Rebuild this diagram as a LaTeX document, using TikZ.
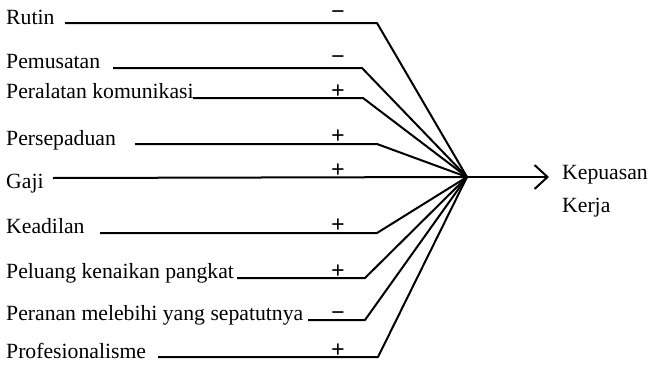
\documentclass[tikz,border=0pt]{standalone}
\usepackage{fontspec}
\setmainfont{Liberation Serif}
\usetikzlibrary{arrows.meta}
\begin{document}
\begin{tikzpicture}[x=1pt,y=-1pt,
  lbl/.style={anchor=base west,inner sep=0pt,font=\fontsize{21.7}{26}\selectfont},
  sgn/.style={inner sep=0pt,font=\fontsize{24}{26}\selectfont\bfseries},
  conn/.style={line width=2pt,line join=round}]
\useasboundingbox (0,0) rectangle (649,370);
\coordinate (hub) at (467,177);
% labels
\node[lbl] (l1) at (6,24) {Rutin};
\node[lbl] (l2) at (6,68) {Pemusatan};
\node[lbl] (l3) at (6,98) {Peralatan komunikasi};
\node[lbl] (l4) at (6,145) {Persepaduan};
\node[lbl] (l5) at (6,188) {Gaji};
\node[lbl] (l6) at (6,233) {Keadilan};
\node[lbl] (l7) at (6,278) {Peluang kenaikan pangkat};
\node[lbl] (l8) at (6,320) {Peranan melebihi yang sepatutnya};
\node[lbl] (l9) at (6,358) {Profesionalisme};
\node[lbl] (out) at (562,179) {Kepuasan};
\node[lbl] (out2) at (562,212) {Kerja};
% start and bend points
\coordinate (s1) at (65,23);  \coordinate (b1) at (377,23);
\coordinate (s2) at (113,68); \coordinate (b2) at (362,68);
\coordinate (s3) at (193,98); \coordinate (b3) at (363,98);
\coordinate (s4) at (135,144); \coordinate (b4) at (377,144);
\coordinate (s5) at (53,178);
\coordinate (s6) at (100,233); \coordinate (b6) at (377,233);
\coordinate (s7) at (237,278); \coordinate (b7) at (365,278);
\coordinate (s8) at (308,320); \coordinate (b8) at (365,320);
\coordinate (s9) at (158,357); \coordinate (b9) at (378,357);
\coordinate (tip) at (549,177);
% connectors
\draw[conn] (s1) -- (b1) -- (hub);
\draw[conn] (s2) -- (b2) -- (hub);
\draw[conn] (s3) -- (b3) -- (hub);
\draw[conn] (s4) -- (b4) -- (hub);
\draw[conn] (s5) -- (hub);
\draw[conn] (s6) -- (b6) -- (hub);
\draw[conn] (s7) -- (b7) -- (hub);
\draw[conn] (s8) -- (b8) -- (hub);
\draw[conn] (s9) -- (b9) -- (hub);
\draw[conn,-{Straight Barb[length=13pt,width=24pt,line width=2pt]}] (hub) -- (tip);
% signs
\node[sgn] (g1) at (338,15) {−};
\node[sgn] (g2) at (338,60) {−};
\node[sgn] (g3) at (338,92) {+};
\node[sgn] (g4) at (338,137) {+};
\node[sgn] (g5) at (338,171) {+};
\node[sgn] (g6) at (338,226) {+};
\node[sgn] (g7) at (338,272) {+};
\node[sgn] (g8) at (338,316) {−};
\node[sgn] (g9) at (338,351) {+};
\end{tikzpicture}
\end{document}
